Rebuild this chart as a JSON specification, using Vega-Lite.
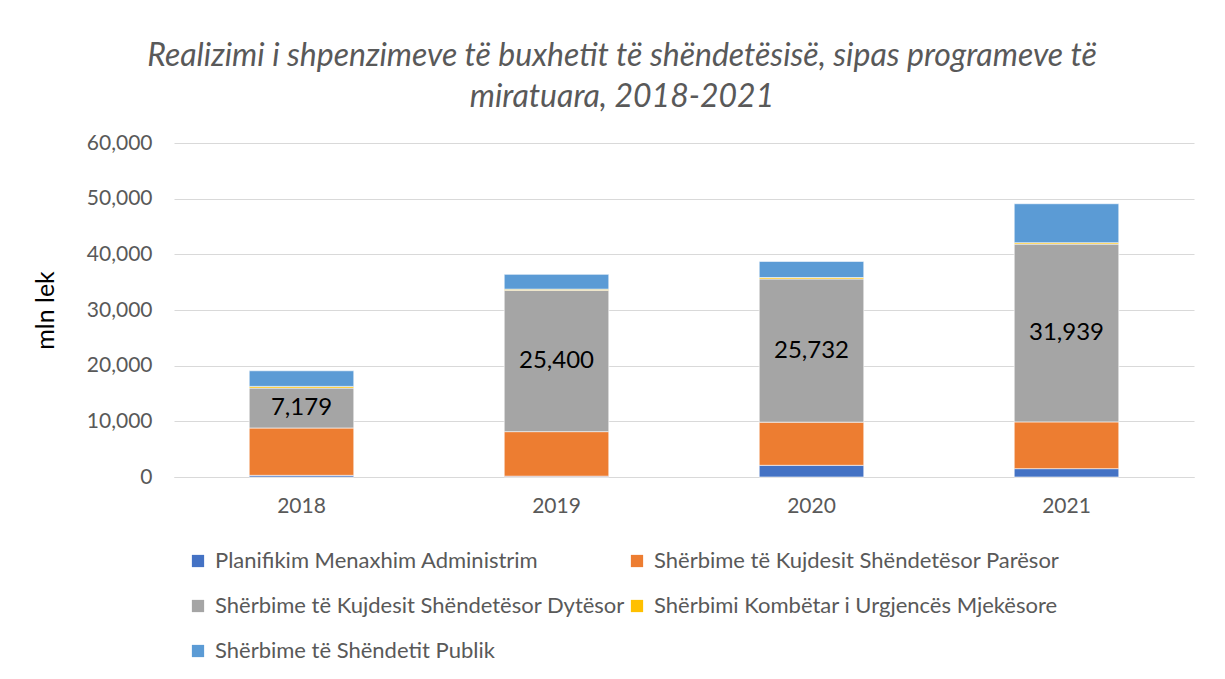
{
  "$schema": "https://vega.github.io/schema/vega-lite/v6.json",
  "width": 1020,
  "height": 334,
  "autosize": {"type": "none"},
  "padding": {"left": 174, "top": 143, "right": 31, "bottom": 202},
  "background": "white",
  "title": {
    "text": ["Realizimi i shpenzimeve të buxhetit të shëndetësisë,  sipas programeve të", "miratuara, 2018-2021"],
    "fontStyle": "italic",
    "fontWeight": "normal",
    "font": "Lato",
    "fontSize": 32,
    "color": "#595959",
    "lineHeight": 41,
    "anchor": "middle",
    "dx": -62,
    "offset": 18
  },
  "data": {
    "values": [
      {"year": "2018", "program": "Planifikim Menaxhim Administrim", "order": 1, "value": 300},
      {"year": "2018", "program": "Shërbime të Kujdesit Shëndetësor Parësor", "order": 2, "value": 8500},
      {"year": "2018", "program": "Shërbime të Kujdesit Shëndetësor Dytësor", "order": 3, "value": 7179},
      {"year": "2018", "program": "Shërbimi Kombëtar i Urgjencës Mjekësore", "order": 4, "value": 300},
      {"year": "2018", "program": "Shërbime të Shëndetit Publik", "order": 5, "value": 2800},
      {"year": "2019", "program": "Planifikim Menaxhim Administrim", "order": 1, "value": 150},
      {"year": "2019", "program": "Shërbime të Kujdesit Shëndetësor Parësor", "order": 2, "value": 8000},
      {"year": "2019", "program": "Shërbime të Kujdesit Shëndetësor Dytësor", "order": 3, "value": 25400},
      {"year": "2019", "program": "Shërbimi Kombëtar i Urgjencës Mjekësore", "order": 4, "value": 200},
      {"year": "2019", "program": "Shërbime të Shëndetit Publik", "order": 5, "value": 2650},
      {"year": "2020", "program": "Planifikim Menaxhim Administrim", "order": 1, "value": 2100},
      {"year": "2020", "program": "Shërbime të Kujdesit Shëndetësor Parësor", "order": 2, "value": 7750},
      {"year": "2020", "program": "Shërbime të Kujdesit Shëndetësor Dytësor", "order": 3, "value": 25732},
      {"year": "2020", "program": "Shërbimi Kombëtar i Urgjencës Mjekësore", "order": 4, "value": 250},
      {"year": "2020", "program": "Shërbime të Shëndetit Publik", "order": 5, "value": 2900},
      {"year": "2021", "program": "Planifikim Menaxhim Administrim", "order": 1, "value": 1500},
      {"year": "2021", "program": "Shërbime të Kujdesit Shëndetësor Parësor", "order": 2, "value": 8400},
      {"year": "2021", "program": "Shërbime të Kujdesit Shëndetësor Dytësor", "order": 3, "value": 31939},
      {"year": "2021", "program": "Shërbimi Kombëtar i Urgjencës Mjekësore", "order": 4, "value": 250},
      {"year": "2021", "program": "Shërbime të Shëndetit Publik", "order": 5, "value": 7000}
    ]
  },
  "transform": [
    {"stack": "value", "groupby": ["year"], "sort": [{"field": "order", "order": "ascending"}], "as": ["y0", "y1"]},
    {"calculate": "(datum.y0 + datum.y1) / 2", "as": "ymid"}
  ],
  "encoding": {
    "x": {
      "field": "year",
      "type": "nominal",
      "title": null,
      "scale": {"paddingInner": 0.59, "paddingOuter": 0.295},
      "axis": {
        "labelAngle": 0,
        "labelFont": "Lato",
        "labelFontSize": 21,
        "labelColor": "#595959",
        "labelPadding": 18,
        "ticks": false,
        "domainColor": "#d9d9d9",
        "domainWidth": 1
      }
    }
  },
  "layer": [
    {
      "mark": {"type": "bar", "stroke": "white", "strokeWidth": 0.6},
      "encoding": {
        "y": {
          "field": "y0",
          "type": "quantitative",
          "scale": {"domain": [0, 60000]},
          "title": "mln lek",
          "axis": {
            "values": [0, 10000, 20000, 30000, 40000, 50000, 60000],
            "labelExpr": "format(datum.value, ',')",
            "labelFont": "Lato",
            "labelFontSize": 21,
            "labelColor": "#595959",
            "labelPadding": 22,
            "ticks": false,
            "domain": false,
            "gridColor": "#d9d9d9",
            "gridWidth": 1.2,
            "titleFont": "Lato",
            "titleFontSize": 25,
            "titleFontWeight": "normal",
            "titleColor": "#000000",
            "titlePadding": 28
          }
        },
        "y2": {"field": "y1"},
        "color": {
          "field": "program",
          "type": "nominal",
          "sort": [
            "Planifikim Menaxhim Administrim",
            "Shërbime të Kujdesit Shëndetësor Parësor",
            "Shërbime të Kujdesit Shëndetësor Dytësor",
            "Shërbimi Kombëtar i Urgjencës Mjekësore",
            "Shërbime të Shëndetit Publik"
          ],
          "scale": {
            "domain": [
              "Planifikim Menaxhim Administrim",
              "Shërbime të Kujdesit Shëndetësor Parësor",
              "Shërbime të Kujdesit Shëndetësor Dytësor",
              "Shërbimi Kombëtar i Urgjencës Mjekësore",
              "Shërbime të Shëndetit Publik"
            ],
            "range": ["#4472C4", "#ED7D31", "#A5A5A5", "#FFC000", "#5B9BD5"]
          },
          "legend": {
            "title": null,
            "orient": "none",
            "legendX": 13,
            "legendY": 407,
            "columns": 2,
            "direction": "horizontal",
            "symbolType": "square",
            "symbolSize": 150,
            "symbolStrokeWidth": 0,
            "labelFont": "Lato",
            "labelFontSize": 22,
            "labelColor": "#595959",
            "labelLimit": 600,
            "labelOffset": 6,
            "rowPadding": 23,
            "columnPadding": 1
          }
        }
      }
    },
    {
      "transform": [{"filter": "datum.order == 3"}],
      "mark": {"type": "text", "font": "Lato", "fontSize": 24, "color": "#000000"},
      "encoding": {
        "y": {
          "field": "ymid",
          "type": "quantitative",
          "title": "mln lek",
          "axis": {
            "values": [0, 10000, 20000, 30000, 40000, 50000, 60000],
            "labelExpr": "format(datum.value, ',')",
            "labelFont": "Lato",
            "labelFontSize": 21,
            "labelColor": "#595959",
            "labelPadding": 22,
            "ticks": false,
            "domain": false,
            "gridColor": "#d9d9d9",
            "gridWidth": 1.2,
            "titleFont": "Lato",
            "titleFontSize": 25,
            "titleFontWeight": "normal",
            "titleColor": "#000000",
            "titlePadding": 28
          }
        },
        "text": {"field": "value", "type": "quantitative", "format": ","}
      }
    }
  ],
  "config": {
    "view": {"stroke": null}
  }
}
